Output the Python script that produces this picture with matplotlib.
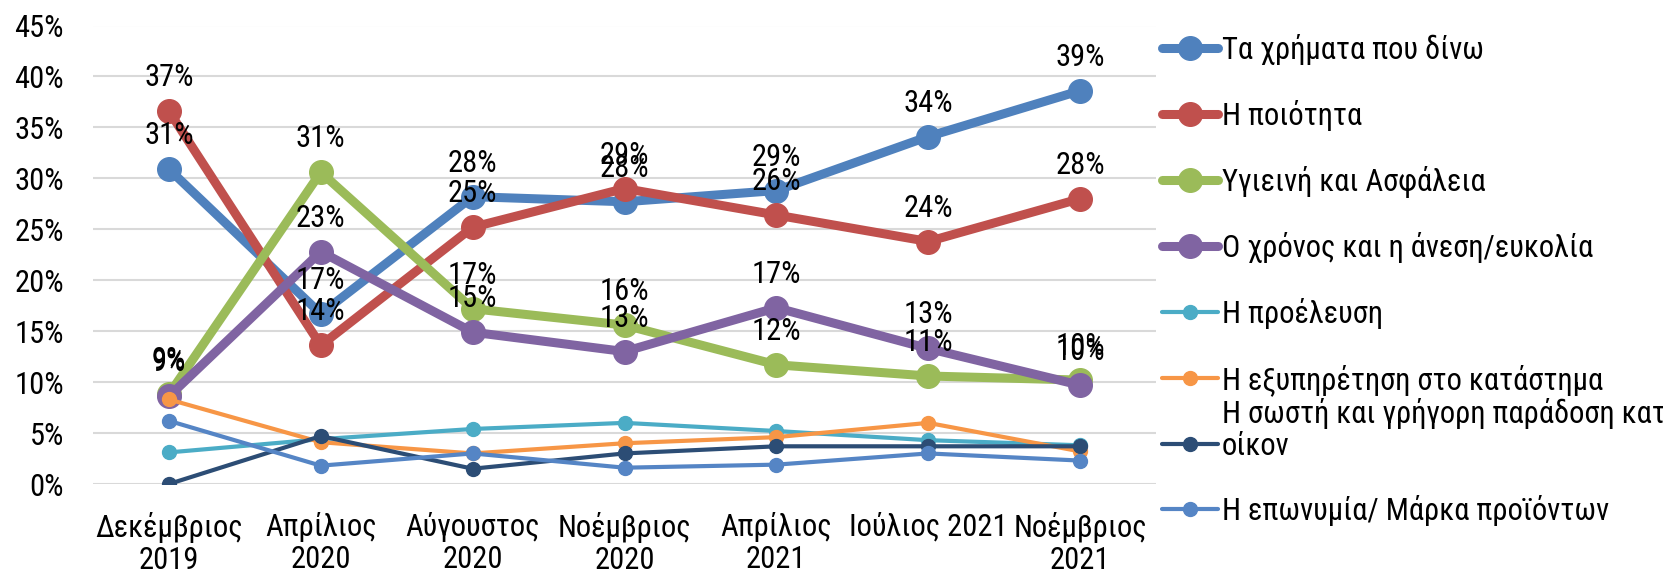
import matplotlib
matplotlib.use("Agg")
import matplotlib.pyplot as plt
from matplotlib.lines import Line2D

plt.rcParams['font.family'] = ['Roboto Condensed', 'DejaVu Sans']

# x categories
months = ["Δεκέμβριος\n2019", "Απρίλιος\n2020", "Αύγουστος\n2020", "Νοέμβριος\n2020",
          "Απρίλιος\n2021", "Ιούλιος 2021", "Νοέμβριος\n2021"]

# series (percent)
xrimata = [30.9, 16.7, 28.2, 27.7, 28.8, 34.1, 38.6]
poiotita = [36.6, 13.6, 25.2, 29.0, 26.4, 23.8, 28.0]
ygieini = [8.8, 30.6, 17.2, 15.6, 11.7, 10.6, 10.2]
xronos = [8.6, 22.8, 14.9, 13.0, 17.3, 13.3, 9.7]
proeleusi = [3.1, 4.4, 5.4, 6.0, 5.2, 4.3, 3.8]
eksypiretisi = [8.3, 4.1, 3.0, 4.0, 4.6, 6.0, 3.2]
paradosi = [0.0, 4.7, 1.5, 3.0, 3.7, 3.7, 3.7]
eponymia = [6.2, 1.8, 3.0, 1.6, 1.9, 3.0, 2.3]

labels = ["Τα χρήματα που δίνω", "Η ποιότητα", "Υγιεινή και Ασφάλεια",
          "Ο χρόνος και η άνεση/ευκολία", "Η προέλευση",
          "Η εξυπηρέτηση στο κατάστημα",
          "Η σωστή και γρήγορη παράδοση κατ'\nοίκον",
          "Η επωνυμία/ Μάρκα προϊόντων"]
series = [xrimata, poiotita, ygieini, xronos, proeleusi, eksypiretisi, paradosi, eponymia]
colors = ["#4F81BD", "#C0504D", "#9BBB59", "#8064A2", "#4BACC6", "#F79646", "#2C4D75", "#5585C5"]
thick = [True, True, True, True, False, False, False, False]

FS = 22
W, H = 1663, 575
fig = plt.figure(figsize=(W / 100, H / 100), dpi=100)
ax = fig.add_axes([93 / W, 1 - 484 / H, (1156 - 93) / W, (484 - 25.5) / H])

x = list(range(len(months)))
for vals, col, tk in zip(series, colors, thick):
    if tk:
        ax.plot(x, vals, color=col, lw=6.5, marker='o', ms=17, solid_capstyle='round', zorder=3)
    else:
        ax.plot(x, vals, color=col, lw=3, marker='o', ms=10, zorder=3)

# data labels for the thick series
for vals, tk in zip(series, thick):
    if not tk:
        continue
    for xi, v in zip(x, vals):
        ax.annotate(f"{v:.0f}%", (xi, v), xytext=(0, 18), textcoords='offset points',
                    ha='center', va='baseline', fontsize=FS, zorder=5)

ax.set_xlim(-0.5, len(months) - 0.5)
ax.set_ylim(0, 45)
ax.set_yticks(range(0, 46, 5))
ax.set_yticklabels([f"{t}%" for t in range(0, 46, 5)])
ax.set_xticks(x)
ax.set_xticklabels(months, linespacing=1.15)
ax.tick_params(axis='y', length=0, pad=21, labelsize=FS)
ax.tick_params(axis='x', length=0, pad=20, labelsize=FS)
ax.grid(axis='y', color='#D9D9D9', lw=1.5, zorder=0)
ax.set_axisbelow(True)
for s in ax.spines.values():
    s.set_visible(False)

# legend drawn by hand on the right
leg_y = [48, 114, 180, 246, 312, 378, 444, 509]
for lab, col, tk, yp in zip(labels, colors, thick, leg_y):
    yf = 1 - yp / H
    lw = 6.5 if tk else 3
    ms = 17 if tk else 10
    fig.add_artist(Line2D([1162 / W, 1218 / W], [yf, yf], color=col, lw=lw,
                          solid_capstyle='round'))
    fig.add_artist(Line2D([1190 / W], [yf], color=col, marker='o', ms=ms, lw=0))
    fig.text(1222 / W, 1 - (yp + 11) / H, lab, fontsize=FS, ha='left', va='baseline',
             linespacing=1.15)

fig.savefig("out.png", dpi=100)
